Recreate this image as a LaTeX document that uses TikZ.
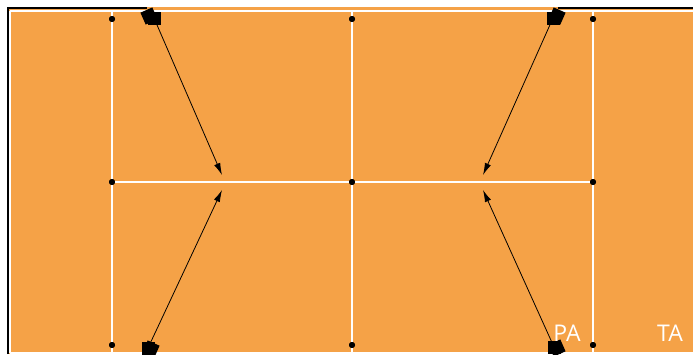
\documentclass[tikz,border=0pt]{standalone}
\usepackage{fontspec}
\setmainfont{Open Sans}
\usetikzlibrary{arrows.meta}
\definecolor{bgorange}{HTML}{F5A247}
\begin{document}
\begin{tikzpicture}[x=1pt,y=-1pt,
  grid/.style={draw=white,line width=1.3pt},
  dotnode/.style={circle,fill=black,inner sep=0pt,minimum size=6pt},
  marker/.style={rectangle,fill=black,inner sep=0pt,minimum size=13pt},
  conn/.style={draw=black,line width=0.8pt,-{Latex[length=12pt,width=6.5pt]}},
  lab/.style={text=white,font=\fontsize{23}{23}\selectfont,anchor=base,inner sep=0pt}]
\useasboundingbox (0,0) rectangle (693,354);
\fill[bgorange] (8,7) rectangle (693,354);
% black frame
\draw[black,line width=2pt] (8,354) -- (8,8) -- (147,8);
\draw[black,line width=2pt] (558,8) -- (693,8);
% white outer lines
\draw[grid] (10,11) -- (693,11);
\draw[grid] (10,11) -- (10,353);
\draw[grid] (10,353) -- (693,353);
% dots
\node[dotnode] (a1) at (112,19) {};
\node[dotnode] (a2) at (352,19) {};
\node[dotnode] (a3) at (593,19) {};
\node[dotnode] (b1) at (112,182) {};
\node[dotnode] (b2) at (352,182) {};
\node[dotnode] (b3) at (593,182) {};
\node[dotnode] (c1) at (112,345) {};
\node[dotnode] (c2) at (352,345) {};
\node[dotnode] (c3) at (593,345) {};
\draw[grid] (a1) -- (b1) -- (c1);
\draw[grid] (a2) -- (b2) -- (c2);
\draw[grid] (a3) -- (b3) -- (c3);
\draw[grid] (b1) -- (b2) -- (b3);
\draw[grid] (a1) -- (112,11);
\draw[grid] (a2) -- (352,11);
\draw[grid] (a3) -- (593,11);
\draw[grid] (c1) -- (112,353);
\draw[grid] (c2) -- (352,353);
\draw[grid] (c3) -- (593,353);
% redraw dots over lines
\foreach \n in {a1,a2,a3,b1,b2,b3,c1,c2,c3} \fill[black] (\n) circle (3pt);
% arrow end points
\coordinate (t1) at (222,175);
\coordinate (t2) at (222,190);
\coordinate (t3) at (483,175);
\coordinate (t4) at (483,190);
% markers
\node[marker] (m1) at (154,18) {};
\node[marker,rotate=24] at (149,16) {};
\node[marker] (m2) at (148,348) {};
\node[marker,rotate=-24] at (151,349) {};
\node[marker] (m3) at (553,18) {};
\node[marker,rotate=-24] at (557,16) {};
\node[marker] (m4) at (554,347) {};
\node[marker,rotate=24] at (557,348) {};
\draw[conn] (m1.center) -- (t1);
\draw[conn] (m2.center) -- (t2);
\draw[conn] (m3.center) -- (t3);
\draw[conn] (m4.center) -- (t4);
% labels
\node[lab] (pa) at (567,341) {PA};
\node[lab] (ta) at (670,341) {TA};
\end{tikzpicture}
\end{document}
